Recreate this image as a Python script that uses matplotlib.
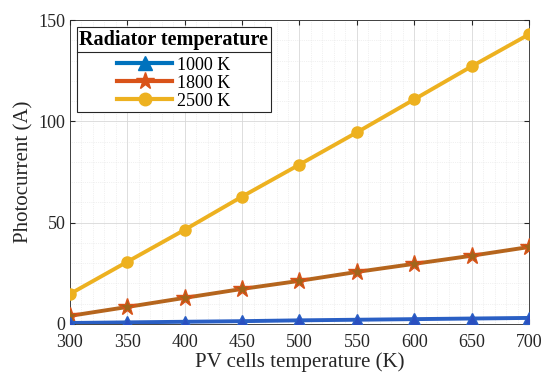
import matplotlib
matplotlib.use("Agg")
import matplotlib.pyplot as plt
from matplotlib.ticker import MultipleLocator
from matplotlib.lines import Line2D

plt.rcParams['font.family'] = ['Liberation Serif', 'DejaVu Serif']

pv_temp = [300, 350, 400, 450, 500, 550, 600, 650, 700]
i_1000 = [0.5, 0.8, 1.1, 1.4, 1.8, 2.1, 2.4, 2.7, 3.0]
i_1800 = [4.0, 8.4, 12.9, 17.3, 21.3, 25.7, 29.7, 33.7, 38.0]
i_2500 = [14.8, 30.7, 46.5, 62.9, 78.7, 94.6, 110.9, 127.2, 143.0]
labels = ['1000 K', '1800 K', '2500 K']

fig = plt.figure(figsize=(5.5, 3.77), dpi=100)
ax = fig.add_axes([0.127, 0.1406, 0.835, 0.806])

ax.plot(pv_temp, i_2500, color='#EDB120', lw=2.8, marker='o', ms=8,
        mfc='#EDB120', mec='#EDB120', label=labels[2], zorder=3)
ax.plot(pv_temp, i_1800, color='#B5651D', lw=2.8, marker='*', ms=13,
        mfc='#A0651A', mec='#D95319', label=labels[1], zorder=3)
ax.plot(pv_temp, i_1000, color='#2A5FC4', lw=2.8, marker='^', ms=9,
        mfc='#2A4FC0', mec='#2A5FC4', label=labels[0], zorder=3)

ax.set_xlim(300, 700)
ax.set_ylim(0, 150)
ax.xaxis.set_major_locator(MultipleLocator(50))
ax.yaxis.set_major_locator(MultipleLocator(50))
ax.xaxis.set_minor_locator(MultipleLocator(10))
ax.yaxis.set_minor_locator(MultipleLocator(10))
ax.grid(True, which='major', color='#d8d8d8', lw=0.6)
ax.grid(True, which='minor', color='#e4e4e4', lw=0.5, ls=':')
ax.tick_params(which='both', direction='in', top=True, right=True, labelsize=13, colors='#262626')
ax.tick_params(axis='x', pad=7)
ax.tick_params(axis='y', pad=3)
ax.tick_params(which='minor', length=0)
for s in ax.spines.values():
    s.set_color('#262626')
    s.set_linewidth(0.6)
ax.set_xlabel('PV cells temperature (K)', fontsize=15, color='#262626', labelpad=1)
ax.set_ylabel('Photocurrent (A)', fontsize=15, color='#262626')

handles = [
    Line2D([], [], color='#0072BD', lw=3, marker='^', ms=10, mfc='#0072BD'),
    Line2D([], [], color='#D95319', lw=3, marker='*', ms=13, mfc='#D95319'),
    Line2D([], [], color='#EDB120', lw=3, marker='o', ms=9, mfc='#EDB120'),
]
leg = ax.legend(handles, labels, title='Radiator temperature', loc='upper left',
                bbox_to_anchor=(0.015, 0.977), borderaxespad=0, fontsize=13,
                fancybox=False, edgecolor='#262626', framealpha=1, handlelength=3.0,
                borderpad=0.15, labelspacing=0.05, handletextpad=0.3,
                alignment='center')
leg.get_title().set_fontweight('bold')
leg.get_title().set_fontsize(14.5)
leg.get_frame().set_linewidth(0.8)
leg._legend_box.sep = 5

fig.canvas.draw()
bb = leg.get_window_extent()
tb = leg.get_title().get_window_extent()
inv = fig.transFigure.inverted()
(x0, y0), (x1, y1) = inv.transform([(bb.x0, tb.y0 - 2), (bb.x1, tb.y0 - 2)])
fig.add_artist(Line2D([x0, x1], [y0, y1], color='#262626', lw=0.8, transform=fig.transFigure, zorder=10))

fig.savefig('out.png', dpi=100)
